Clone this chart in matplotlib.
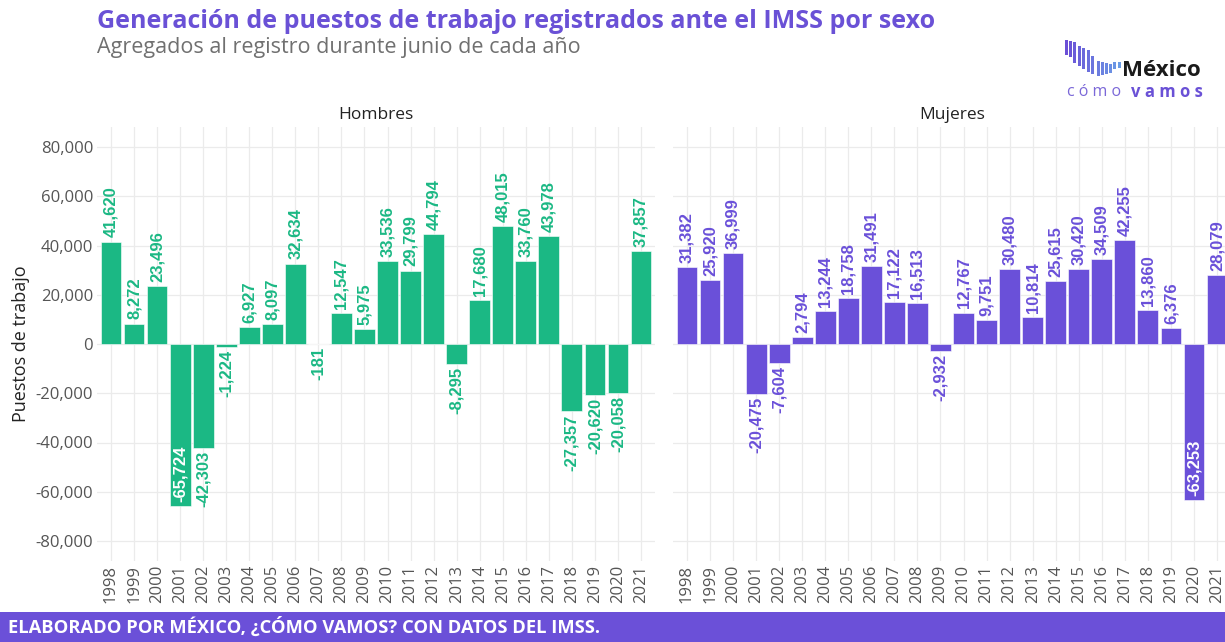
import matplotlib
matplotlib.use("Agg")
import matplotlib.pyplot as plt
from matplotlib.patches import Rectangle

years = list(range(1998, 2022))
hombres = [41620, 8272, 23496, -65724, -42303, -1224, 6927, 8097, 32634, -181,
           12547, 5975, 33536, 29799, 44794, -8295, 17680, 48015, 33760, 43978,
           -27357, -20620, -20058, 37857]
mujeres = [31382, 25920, 36999, -20475, -7604, 2794, 13244, 18758, 31491, 17122,
           16513, -2932, 12767, 9751, 30480, 10814, 25615, 30420, 34509, 42255,
           13860, 6376, -63253, 28079]
panels = ["Hombres", "Mujeres"]
yticks = list(range(-80000, 80001, 20000))

GREEN = "#1bb884"
PURPLE = "#6a50d9"
TXT = "#555555"

W, H = 1225, 642
fig = plt.figure(figsize=(W / 100, H / 100), dpi=100)
fig.patch.set_facecolor("white")

def px(x0, y0, x1, y1):
    return [x0 / W, 1 - y1 / H, (x1 - x0) / W, (y1 - y0) / H]

axes_pos = [px(97.2, 127.3, 654.8, 560.7), px(673.2, 127.3, 1230.8, 560.7)]
series = [hombres, mujeres]
colors = [GREEN, PURPLE]

for i, (pos, vals, col, name) in enumerate(zip(axes_pos, series, colors, panels)):
    ax = fig.add_axes(pos)
    ax.set_xlim(years[0] - 0.6, years[-1] + 0.6)
    ax.set_ylim(-88000, 88000)
    for s in ax.spines.values():
        s.set_visible(False)
    ax.set_xticks(years)
    ax.set_xticklabels([str(y) for y in years], rotation=90, fontsize=12,
                       color=TXT, family="Open Sans")
    ax.set_yticks(yticks)
    if i == 0:
        ax.set_yticklabels([f"{v:,}" for v in yticks], fontsize=12, color=TXT,
                           family="Open Sans")
        ax.set_ylabel("Puestos de trabajo", fontsize=13, color="#222222",
                      family="Open Sans", labelpad=4)
    else:
        ax.set_yticklabels([])
    ax.tick_params(length=0, pad=3)
    ax.grid(True, color="#ebebeb", linewidth=0.9)
    ax.set_axisbelow(True)
    ax.bar(years, vals, width=0.9, color=col, edgecolor="white", linewidth=0.4,
           zorder=2)
    for x, v in zip(years, vals):
        lab = f"{v:,}"
        if v >= 0:
            ax.annotate(lab, (x, v), xytext=(0, 3), textcoords="offset points",
                        rotation=90, ha="center", va="bottom", color=col,
                        fontsize=12, fontweight="bold", family="Liberation Sans",
                        zorder=3)
        elif v < -55000:
            ax.annotate(lab, (x, v), xytext=(0, 3), textcoords="offset points",
                        rotation=90, ha="center", va="bottom", color="white",
                        fontsize=12, fontweight="bold", family="Liberation Sans",
                        zorder=3)
        else:
            ax.annotate(lab, (x, v), xytext=(0, -2), textcoords="offset points",
                        rotation=90, ha="center", va="top", color=col,
                        fontsize=12, fontweight="bold", family="Liberation Sans",
                        zorder=3)
    ax.set_title(name, fontsize=12.5, color="#222222", family="Open Sans", pad=6)

# Title & subtitle
fig.text(97 / W, 1 - 22 / H, "Generación de puestos de trabajo registrados ante el IMSS por sexo",
         fontsize=18, fontweight="bold", color="#6a51d6", family="Open Sans",
         va="center", ha="left")
fig.text(97 / W, 1 - 48 / H, "Agregados al registro durante junio de cada año",
         fontsize=15.5, color="#707070", family="Open Sans", va="center", ha="left")

# Footer band
fig.patches.append(Rectangle((0, 0), 1, 30 / H, transform=fig.transFigure,
                             facecolor="#6b50d8", edgecolor="none", zorder=5))
fig.text(8 / W, 15 / H, "ELABORADO POR MÉXICO, ¿CÓMO VAMOS? CON DATOS DEL IMSS.",
         fontsize=13.2, fontweight="bold", color="white", family="Open Sans",
         va="center", ha="left", zorder=6)

# Logo
logo_bars = [(1065, 40, 55), (1069, 41, 57), (1073, 42, 63), (1077.5, 46, 66),
             (1082, 48, 69), (1086.5, 50, 72), (1091, 56, 74), (1097, 61, 76),
             (1101, 62, 75), (1105, 63, 74), (1108.5, 64, 73), (1113, 62, 69),
             (1117.5, 62, 68)]
for k, (x0, y0, y1) in enumerate(logo_bars):
    t = k / (len(logo_bars) - 1)
    c = (0.42 - 0.0 * t, 0.31 + 0.30 * t, 0.84 + 0.06 * t)
    fig.patches.append(Rectangle((x0 / W, 1 - y1 / H), 3.0 / W, (y1 - y0) / H,
                                 transform=fig.transFigure, facecolor=c,
                                 edgecolor="none"))
fig.text(1122 / W, 1 - 70 / H, "México", fontsize=16, fontweight="bold",
         color="#1a1a1a", family="Open Sans", va="center", ha="left")
fig.text(1067 / W, 1 - 92 / H, "c ó m o", fontsize=11.5, color="#7b68d8",
         family="Open Sans", va="center", ha="left")
fig.text(1131 / W, 1 - 92 / H, "v a m o s", fontsize=12, fontweight="bold",
         color="#6a51d6", family="Open Sans", va="center", ha="left")

fig.savefig("out.png", dpi=100)
